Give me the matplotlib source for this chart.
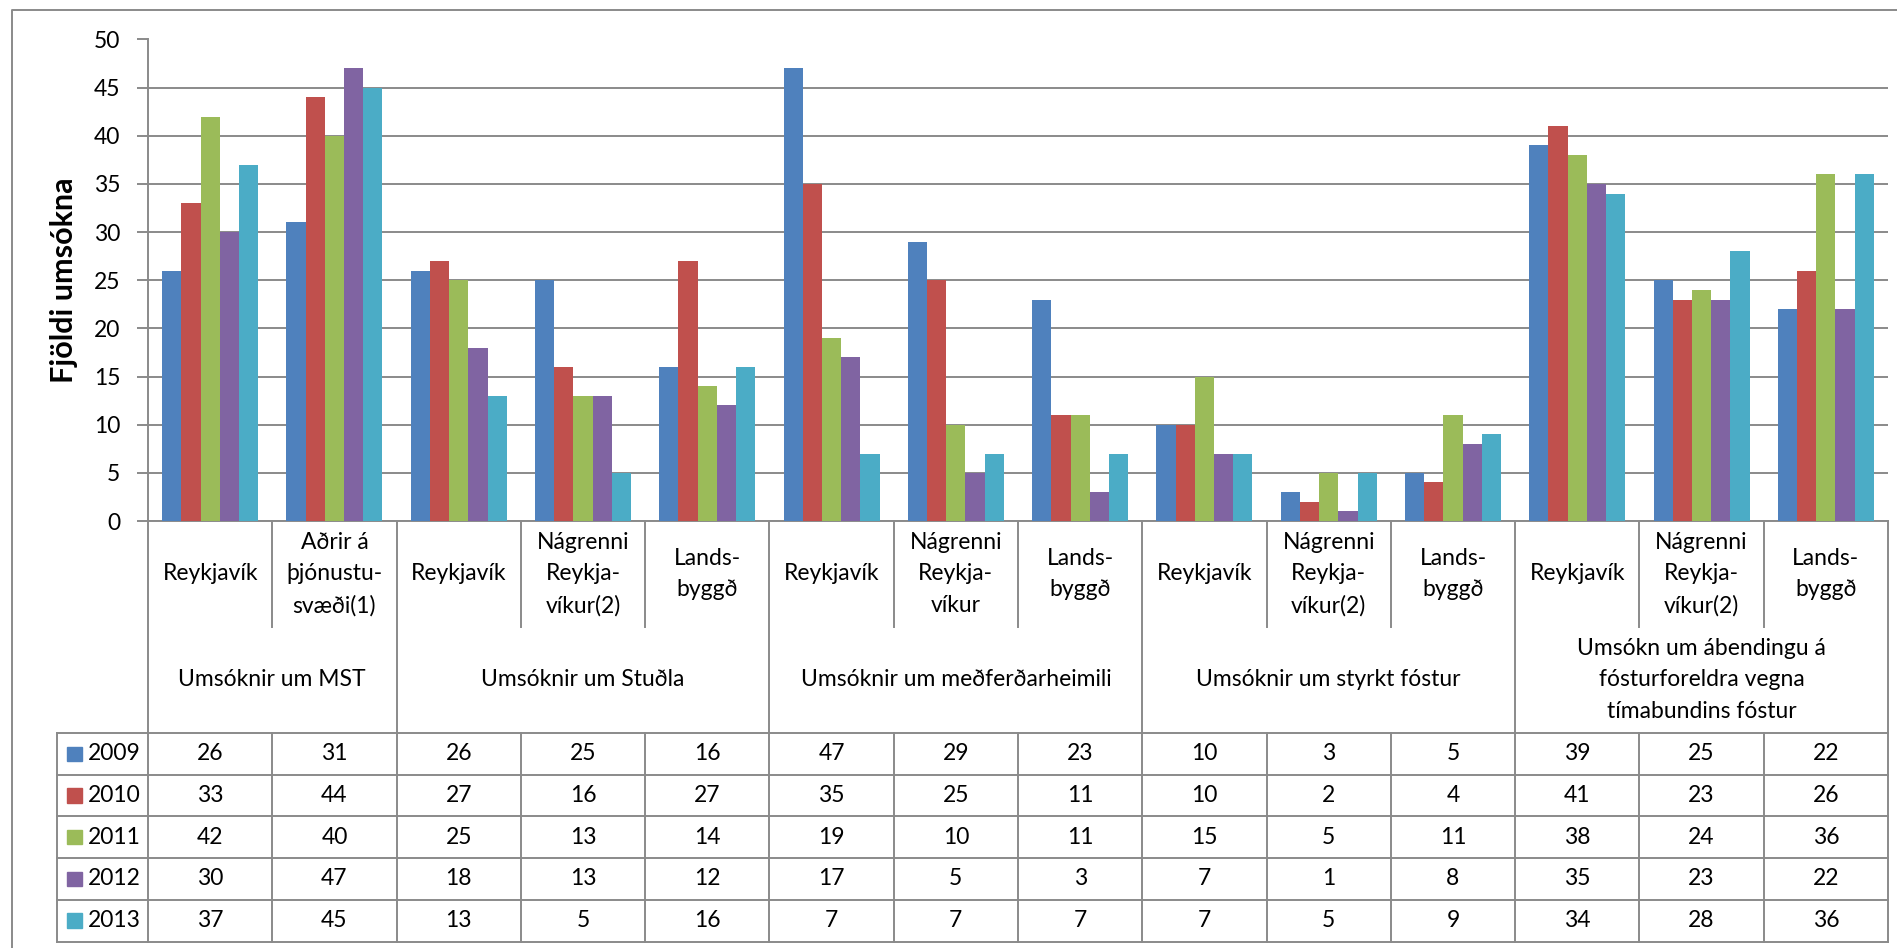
import matplotlib.pyplot as plt
import numpy as np
from matplotlib.lines import Line2D
from matplotlib.patches import Rectangle

plt.rcParams['font.family'] = ['Lato', 'DejaVu Sans']

# data
years = ["2009", "2010", "2011", "2012", "2013"]
sub_labels = ["Reykjavík", "Aðrir á\nþjónustu-\nsvæði(1)",
              "Reykjavík", "Nágrenni\nReykja-\nvíkur(2)", "Lands-\nbyggð",
              "Reykjavík", "Nágrenni\nReykja-\nvíkur", "Lands-\nbyggð",
              "Reykjavík", "Nágrenni\nReykja-\nvíkur(2)", "Lands-\nbyggð",
              "Reykjavík", "Nágrenni\nReykja-\nvíkur(2)", "Lands-\nbyggð"]
group_labels = ["Umsóknir um MST", "Umsóknir um Stuðla",
                "Umsóknir um meðferðarheimili", "Umsóknir um styrkt fóstur",
                "Umsókn um ábendingu á\nfósturforeldra vegna\ntímabundins fóstur"]
group_sizes = [2, 3, 3, 3, 3]
v2009 = [26, 31, 26, 25, 16, 47, 29, 23, 10, 3, 5, 39, 25, 22]
v2010 = [33, 44, 27, 16, 27, 35, 25, 11, 10, 2, 4, 41, 23, 26]
v2011 = [42, 40, 25, 13, 14, 19, 10, 11, 15, 5, 11, 38, 24, 36]
v2012 = [30, 47, 18, 13, 12, 17, 5, 3, 7, 1, 8, 35, 23, 22]
v2013 = [37, 45, 13, 5, 16, 7, 7, 7, 7, 5, 9, 34, 28, 36]
series = [v2009, v2010, v2011, v2012, v2013]
colors = ['#4F81BD', '#C0504D', '#9BBB59', '#8064A2', '#4BACC6']

GRAY = '#8a8a8a'
FS = 16.5
W, H = 1897, 948
n = len(sub_labels)

fig = plt.figure(figsize=(W / 100, H / 100), dpi=100, facecolor='white')

# bar area (pixel layout of the original)
ax = fig.add_axes([148 / W, (H - 521) / H, 1740 / W, 481.5 / H])
x = np.arange(n)
bw = 0.1545
for k, vals in enumerate(series):
    ax.bar(x + (k - 2) * bw, vals, bw, color=colors[k], linewidth=0, zorder=3)

ax.set_xlim(-0.5, n - 0.5)
ax.set_ylim(0, 50)
ax.set_yticks(range(0, 51, 5))
ax.set_xticks([])
ax.tick_params(axis='y', length=8, width=1.4, color=GRAY, labelsize=FS, pad=12)
ax.grid(axis='y', color=GRAY, linewidth=1.4, zorder=0)
ax.set_axisbelow(True)
for s in ['top', 'right']:
    ax.spines[s].set_visible(False)
for s in ['left', 'bottom']:
    ax.spines[s].set_color(GRAY)
    ax.spines[s].set_linewidth(1.4)
ax.set_ylabel("Fjöldi umsókna", fontsize=22, fontweight='bold')
ax.yaxis.set_label_coords(-0.0405, 0.5)

# data table below the axis, y in pixels below the axis line
tab = fig.add_axes([148 / W, 0, 1740 / W, (H - 521) / H])
tab.set_xlim(-0.5, n - 0.5)
tab.set_ylim(H - 521, 0)
tab.axis('off')
u = n / 1740.0  # data units per pixel

band1 = 106
top = 212
rh = 41.7
rows_y = [top + i * rh for i in range(len(years) + 1)]
bottom = rows_y[-1]
leg_left = -0.5 - (148 - 57.3) * u

def line(xs, ys):
    tab.add_line(Line2D(xs, ys, color=GRAY, lw=1.4, clip_on=False))

bounds = np.cumsum(group_sizes)
for b in range(n + 1):
    xb = b - 0.5
    if b == 0 or b in bounds:
        line([xb, xb], [0, bottom])
    else:
        line([xb, xb], [0, band1])
        line([xb, xb], [top, bottom])
line([leg_left, leg_left], [top, bottom])
for yy in rows_y:
    line([leg_left, n - 0.5], [yy, yy])

for i, lab in enumerate(sub_labels):
    tab.text(i, band1 / 2, lab, ha='center', va='center', fontsize=FS,
             linespacing=1.6)

start = 0
for g, size in zip(group_labels, group_sizes):
    tab.text(start + (size - 1) / 2, (band1 + top) / 2, g, ha='center',
             va='center', fontsize=FS, linespacing=1.6)
    start += size

for k, (yr, vals) in enumerate(zip(years, series)):
    yc = rows_y[k] + rh / 2
    sq = 14.4
    tab.add_patch(Rectangle((-0.5 - (148 - 67.3) * u, yc - sq / 2), sq * u, sq,
                            color=colors[k], clip_on=False))
    tab.text(-0.5 - (148 - 88.3) * u, yc, yr, ha='left', va='center',
             fontsize=FS)
    for i, v in enumerate(vals):
        tab.text(i, yc, str(v), ha='center', va='center', fontsize=FS)

# outer chart frame (top and left edges visible)
fig.add_artist(Line2D([12 / W, 12 / W, 1.0], [0.0, 1 - 10 / H, 1 - 10 / H],
                      transform=fig.transFigure, color=GRAY, lw=1.4))

fig.savefig('out.png', dpi=100, facecolor='white')
